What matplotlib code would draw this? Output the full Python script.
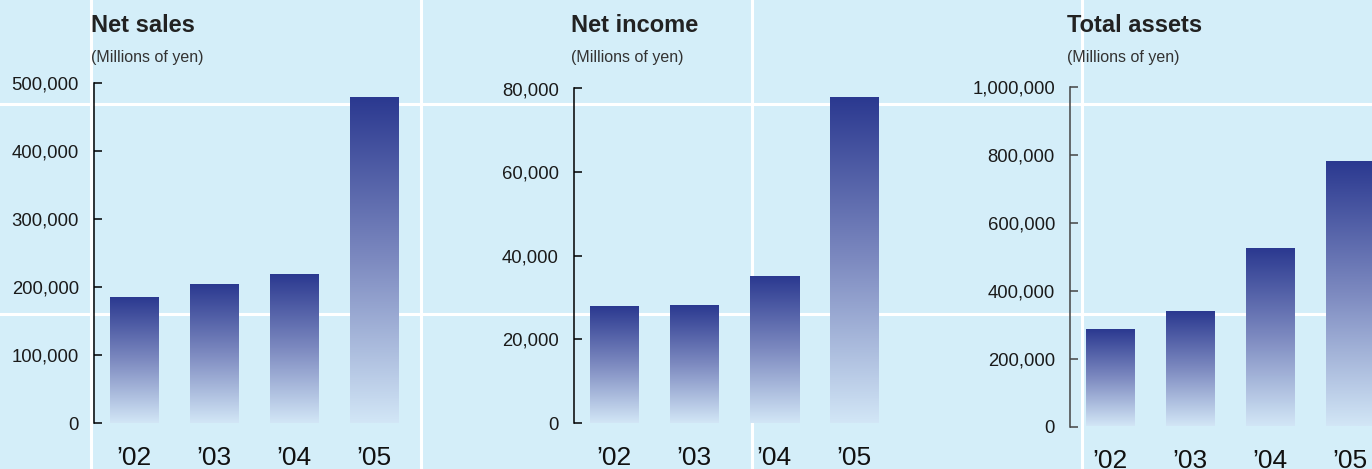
import numpy as np
import matplotlib
matplotlib.use("Agg")
import matplotlib.pyplot as plt
from matplotlib.colors import LinearSegmentedColormap
from matplotlib.ticker import StrMethodFormatter

# Data (millions of yen)
years = ["\u201902", "\u201903", "\u201904", "\u201905"]
net_sales = [185000, 203000, 219000, 479000]
net_income = [27800, 28200, 35000, 77800]
total_assets = [285000, 338000, 523000, 779000]

titles = ["Net sales", "Net income", "Total assets"]
subtitle = "(Millions of yen)"

plt.rcParams["font.family"] = ["Liberation Sans", "DejaVu Sans"]

W, H = 1372, 469
BG = "#D4EEF9"
fig = plt.figure(figsize=(W / 100, H / 100), dpi=100, facecolor=BG)

# Background with the white grid
bg = fig.add_axes([0, 0, 1, 1], zorder=-5)
bg.set_xlim(0, W)
bg.set_ylim(H, 0)
bg.set_facecolor(BG)
for gx in [91, 421, 752, 1082]:
    bg.axvline(gx, color="white", lw=2.2)
for gy in [104, 314]:
    bg.axhline(gy, color="white", lw=2.2)
bg.axis("off")

grad_cmap = LinearSegmentedColormap.from_list(
    "bar", ["#D2E6F6", "#7D8AC0", "#2B3990"])
grad = np.linspace(1, 0, 256).reshape(-1, 1)

# Panel layout in pixels: spine x, right edge, zero y, top y, y max, tick step
panels = [
    (94, 420, 423, 83, 500000, 100000, net_sales, "black"),
    (574, 900, 423, 88.5, 80000, 20000, net_income, "black"),
    (1070, 1372, 426.5, 87.5, 1000000, 200000, total_assets, "#444444"),
]

spacing = 80.0
bar_w = 49 / spacing

for (x0, x1, yz, yt, ymax, step, values, spcol), title in zip(panels, titles):
    ax = fig.add_axes([x0 / W, (H - yz) / H, (x1 - x0) / W, (yz - yt) / H])
    ax.patch.set_alpha(0)
    xs = np.arange(len(values))
    bars = ax.bar(xs, values, width=bar_w, color="none", edgecolor="none")
    for b in bars:
        bx, by = b.get_x(), b.get_y()
        ax.imshow(grad, cmap=grad_cmap, aspect="auto",
                  extent=(bx, bx + b.get_width(), by, by + b.get_height()),
                  zorder=2)
    ax.set_xlim(-0.5, (x1 - x0) / spacing - 0.5)
    ax.set_ylim(0, ymax)

    for s in ["top", "right", "bottom"]:
        ax.spines[s].set_visible(False)
    ax.spines["left"].set_color(spcol)
    ax.spines["left"].set_linewidth(1.1)

    ax.set_yticks(np.arange(0, ymax + 1, step))
    ax.yaxis.set_major_formatter(StrMethodFormatter("{x:,.0f}"))
    ax.tick_params(axis="y", direction="in", length=5.8, width=1.1,
                   color=spcol, pad=10.8, labelsize=13.3, labelcolor="#1a1a1a")
    ax.set_xticks(xs, years)
    ax.tick_params(axis="x", length=0, pad=16.5, labelsize=19,
                   labelcolor="#111111")

    fig.text((x0 - 3) / W, (H - 32) / H, title, fontsize=17,
             fontweight="bold", color="#222222", va="baseline")
    fig.text((x0 - 3) / W, (H - 62) / H, subtitle, fontsize=11.5,
             color="#333333", va="baseline")

fig.savefig("out.png", dpi=100, facecolor=BG)
